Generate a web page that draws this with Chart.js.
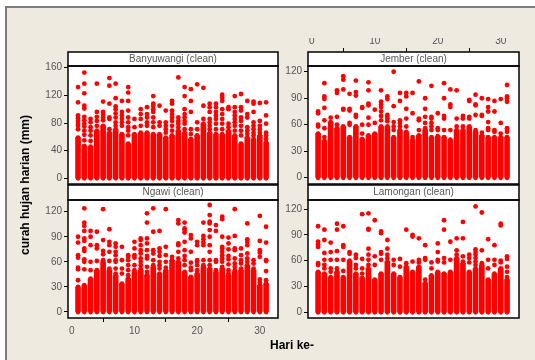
<!DOCTYPE html>
<html>
<head>
<meta charset="utf-8">
<script src="https://cdn.jsdelivr.net/npm/chart.js@4.4.1/dist/chart.umd.min.js"></script>
<style>
  html, body { margin: 0; padding: 0; width: 535px; height: 360px; overflow: hidden; background: #ffffff; }
  #frame { position: absolute; left: 5px; top: 6px; width: 540px; height: 360px;
           background: #EEEAE0; border-left: 2px solid #7d7d7d; border-top: 2px solid #7d7d7d; }
  canvas { position: absolute; }
  .axis-title { position: absolute; font: bold 12px "Liberation Sans", Arial, sans-serif; color: #000; white-space: nowrap; }
  #ytitle { left: 25px; top: 185px; transform: translate(-50%, -50%) rotate(-90deg); }
  #xtitle { left: 292px; top: 345px; transform: translate(-50%, -50%); }
</style>
</head>
<body>
<div id="frame"></div>
<canvas id="pBanyuwangi"></canvas>
<canvas id="pJember"></canvas>
<canvas id="pNgawi"></canvas>
<canvas id="pLamongan"></canvas>
<div class="axis-title" id="ytitle">curah hujan harian (mm)</div>
<div class="axis-title" id="xtitle">Hari ke-</div>
<script>
// Day of month (x) and axis tick labels
const days = [1,2,3,4,5,6,7,8,9,10,11,12,13,14,15,16,17,18,19,20,21,22,23,24,25,26,27,28,29,30,31];
const xTicks = [0, 10, 20, 30];
const yTicksBanyuwangi = [0, 40, 80, 120, 160];
const yTicksOther = [0, 30, 60, 90, 120];

// Daily rainfall (mm) per day of month: the dense bulk of readings runs from 0 up to *Bulk,
// the separate higher readings of each day are listed in *High.
const banyuwangiBulk = [59,47,46,69,76,66,71,64,50,64,66,66,64,64,59,62,69,66,57,62,79,66,64,64,69,62,50,59,57,62,52];
const banyuwangiHigh = [
  [132,110,91,87,83,79,76,71], [153,137,123,105,101,89,84,79,75,69,63,55], [86,81,74,69,62,54],
  [137,96,89,83,76], [111,96,92,88,84], [145,134,108,88,86,71], [137,116,104,100,94,88,81,76],
  [112,96,91,86,81,76], [132,124,112,98,88,81,74,69,62], [86,74], [100,93,86,76],
  [103,93,88,81,76], [119,108,105,100,96,88,81,74], [105,81,76], [98,81,76,71,66],
  [112,108,98,93,88,83,76,69], [146,88,83,79,74], [132,119,100,93,88,83,79,71], [129,112,96,71,64],
  [136,81,71], [131,105,86], [108,103,96,86,81,76,71], [108,103,96,91,86,79,71],
  [121,117,112,100,93,86,79,71], [103,100,79,74], [119,103,96,91,86,81,76,69],
  [122,103,98,88,83,76,69,62], [112,93,88,74,69,64], [111,108,96,81,76,71,66,62],
  [109,83,76,71,66], [110,91,79,66,62,57]
];

const jemberBulk = [50,42,63,56,58,46,58,44,48,50,58,58,46,54,52,43,48,54,46,47,46,43,54,54,58,52,48,46,46,46,46];
const jemberHigh = [
  [75,73,60,58], [107,92,89,79,65,56,46], [68], [99,96,69,60], [115,111,100,78,77],
  [95,78,76,62,60], [110,97,93,71,69], [80,79,60,50], [108,99,84,82,68,60], [77,62],
  [99,86,83,80,75,70,65], [92,89,71,69,67,64], [120,81,63,58,54], [96,87,65,62,58],
  [96,92,78,67,58], [96,73,46], [109,67,65,54], [90,78,69,62,56], [104,69,67,62,58,54],
  [73,56,54], [107,90,70,67,54], [100,83,80,54], [99,67,58], [70,67,58], [88,87,69,67],
  [94,83,82,71,54], [90,71,70,51], [89,80,75,63,56,54], [87,75,54,52], [89,62,50],
  [105,92,90,86,56,54,52]
];

const ngawiBulk = [30,32,40,50,60,50,44,34,40,48,50,44,54,46,50,62,60,48,42,46,54,52,48,52,44,48,50,56,50,32,34];
const ngawiHigh = [
  [90,83,68,65,53,51,38], [124,107,103,97,88,85,76,73,63,60,51], [97,90,80,60,50], [96,80,76,61],
  [123,86,73,69,62], [99,84,80,72,61,52], [82,78,72,68,62,60,52,46], [78,62,52,46],
  [68,66,62,56,50,44], [84,76,68,65,56,50], [88,86,80,74,70,64,60,56,52],
  [118,107,88,82,74,67,64,54,48], [124,96,74,70,62,56], [97,76,72,67,60,56,52], [123,78,68,60,53],
  [66], [110,106,82,80,72,64], [107,100,98,95,84,74,67,62,56], [92,88,72,59,53,50],
  [84,80,62,60,56,50], [107,91,87,83,80,62,56], [128,116,108,106,98,90,80,72,62,56],
  [104,97,62,60,50], [114,111,90,78,76,72,68,64,60,54], [89,82,75,67,63,57,50,46],
  [123,91,76,74,64,58,54,50], [76,68,62,58,52], [106,87,84,80,70,64,60], [62,58,52],
  [115,85,74,71,66,39,35], [102,83,62,61,49,38]
];

const lamonganBulk = [47,45,41,47,41,60,45,40,51,38,45,59,45,41,53,47,53,34,43,47,45,47,63,57,47,51,55,38,45,51,38];
const lamonganHigh = [
  [100,82,79,76,57,55], [96,84,69,61,55,51], [81,70,61,51,47], [103,96,71,61,51], [100,78,76,61,48],
  [70,68], [67,63,55,51], [114,62,51,45], [115,97,96,74,67,61,55], [107,65,55], [94,92,70,68,61],
  [84,74,67,63], [61,55], [62,53], [96,57], [90,88,59], [86,61,58], [78,63,61,38], [58,51],
  [80,70,61,59], [107,96,63,58], [82,61], [86,72,67], [105,86,65,59], [67,63,58],
  [123,73,70,67,63,59,55], [116,72,57], [85,61,51], [78,61,55], [103,101,60,58], [65,62,53,47,41]
];

const RED = '#ff0000';
const TICK_FONT = { family: '"Liberation Sans", Arial, sans-serif', size: 10 };

// White plot / header backgrounds and their black outlines
const panelFrame = {
  id: 'panelFrame',
  beforeDraw(chart) {
    const { ctx, chartArea: a } = chart;
    const t = chart.titleBlock;
    ctx.save();
    ctx.fillStyle = '#ffffff';
    ctx.fillRect(a.left, a.top, a.right - a.left, a.bottom - a.top);
    ctx.fillRect(t.left, t.top, t.width, t.height);
    ctx.restore();
  },
  afterDraw(chart) {
    const { ctx, chartArea: a } = chart;
    const t = chart.titleBlock;
    ctx.save();
    ctx.strokeStyle = '#000000';
    ctx.lineWidth = 1.5;
    ctx.strokeRect(a.left, a.top, a.right - a.left, a.bottom - a.top);
    ctx.strokeRect(t.left, t.top, t.width, t.height);
    ctx.restore();
  }
};

function makePanel(cfg) {
  const canvas = document.getElementById(cfg.id);
  canvas.width = cfg.w; canvas.height = cfg.h;
  canvas.style.left = cfg.left + 'px'; canvas.style.top = cfg.top + 'px';
  canvas.style.width = cfg.w + 'px'; canvas.style.height = cfg.h + 'px';

  const bulkBars = days.map((d, i) => ({ x: d, y: [0, cfg.bulk[i]] }));
  const points = [];
  days.forEach((d, i) => {
    points.push({ x: d, y: 0 });
    points.push({ x: d, y: cfg.bulk[i] });
    cfg.high[i].forEach(v => points.push({ x: d, y: v }));
  });

  const xShown = cfg.xPos !== 'none';
  new Chart(canvas, {
    type: 'scatter',
    data: {
      datasets: [
        { type: 'scatter', data: points, backgroundColor: RED, borderWidth: 0,
          pointRadius: 2.4, pointHoverRadius: 2.4 },
        { type: 'bar', data: bulkBars, backgroundColor: RED, borderWidth: 0,
          barThickness: 5, grouped: false }
      ]
    },
    options: {
      responsive: false, animation: false, events: [],
      layout: { padding: { top: 2, left: 0, right: 4, bottom: cfg.padBottom } },
      plugins: {
        legend: { display: false }, tooltip: { enabled: false },
        title: { display: true, text: cfg.title, fullSize: false, color: '#555555',
                 font: { family: TICK_FONT.family, size: 10, weight: 'normal', lineHeight: 1.2 },
                 padding: { top: cfg.titlePad, bottom: cfg.titlePad } }
      },
      scales: {
        x: {
          type: 'linear', offset: false, min: -0.6, max: 32.9,
          display: xShown, position: xShown ? cfg.xPos : 'bottom', weight: 3000,
          afterBuildTicks: s => { s.ticks = xTicks.map(v => ({ value: v })); },
          afterFit: s => { if (xShown) s.height = cfg.xAxisH; },
          grid: { display: true, drawOnChartArea: false, drawTicks: true, tickLength: 4, color: '#000' },
          border: { display: false },
          ticks: { color: '#555555', font: TICK_FONT, padding: cfg.xPad, maxRotation: 0, autoSkip: false }
        },
        y: {
          type: 'linear', min: cfg.yMin, max: cfg.yMax, position: 'left',
          afterBuildTicks: s => { s.ticks = cfg.yTicks.map(v => ({ value: v })); },
          afterFit: s => { s.width = 44; },
          grid: { display: true, drawOnChartArea: false, drawTicks: true, tickLength: 4, color: '#000' },
          border: { display: false },
          ticks: { color: '#555555', font: TICK_FONT, padding: 2, autoSkip: false }
        }
      }
    },
    plugins: [panelFrame]
  });
}

makePanel({ id: 'pBanyuwangi', title: 'Banyuwangi (clean)', bulk: banyuwangiBulk, high: banyuwangiHigh,
  yTicks: yTicksBanyuwangi, yMin: -8.2, yMax: 162.5, xPos: 'none',
  left: 24, top: 50, w: 258, h: 144, padBottom: 10, titlePad: 1 });
makePanel({ id: 'pJember', title: 'Jember (clean)', bulk: jemberBulk, high: jemberHigh,
  yTicks: yTicksOther, yMin: -7.1, yMax: 126.5, xPos: 'top', xAxisH: 14, xPad: 1,
  left: 264, top: 36, w: 259, h: 158, padBottom: 10, titlePad: 1 });
makePanel({ id: 'pNgawi', title: 'Ngawi (clean)', bulk: ngawiBulk, high: ngawiHigh,
  yTicks: yTicksOther, yMin: -7.2, yMax: 134, xPos: 'bottom', xAxisH: 20, xPad: 3,
  left: 24, top: 183, w: 258, h: 157, padBottom: 2, titlePad: 1.5 });
makePanel({ id: 'pLamongan', title: 'Lamongan (clean)', bulk: lamonganBulk, high: lamonganHigh,
  yTicks: yTicksOther, yMin: -6.6, yMax: 130.5, xPos: 'none',
  left: 264, top: 183, w: 259, h: 145, padBottom: 10, titlePad: 1.5 });
</script>
</body>
</html>
